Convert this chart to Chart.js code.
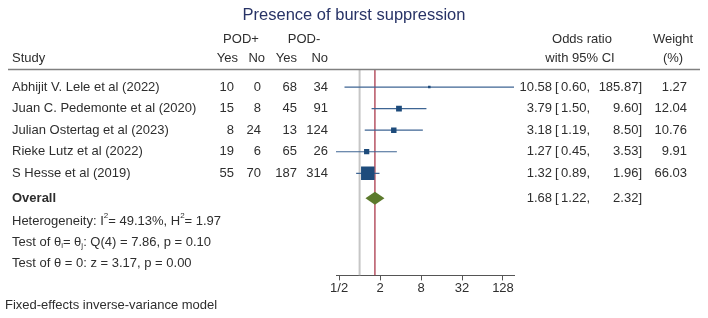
<!DOCTYPE html>
<html><head><meta charset="utf-8">
<script src="https://cdn.jsdelivr.net/npm/chart.js@4"></script>
<style>html,body{margin:0;padding:0;background:#fff}canvas{display:block}</style>
</head><body>
<canvas id="c" width="708" height="318"></canvas>
<script>
// ---- data ----
const studies = ['Abhijit V. Lele et al (2022)', 'Juan C. Pedemonte et al (2020)', 'Julian Ostertag et al (2023)', 'Rieke Lutz et al (2022)', 'S Hesse et al (2019)'];
const podPosYes = [10, 15, 8, 19, 55];
const podPosNo = [0, 8, 24, 6, 70];
const podNegYes = [68, 45, 13, 65, 187];
const podNegNo = [34, 91, 124, 26, 314];
const oddsRatio = [10.58, 3.79, 3.18, 1.27, 1.32];
const ciLower = [0.60, 1.50, 1.19, 0.45, 0.89];
const ciUpper = [185.87, 9.60, 8.50, 3.53, 1.96];
const weights = [1.27, 12.04, 10.76, 9.91, 66.03];
const overallOR = 1.68, overallLower = 1.22, overallUpper = 2.32;
const tickValues = [0.5, 2, 8, 32, 128];
const tickLabels = ['1/2', '2', '8', '32', '128'];

// ---- layout ----
const FONT = '"Liberation Sans", Arial, sans-serif';
const TXT = '#2e2e2e';
const rowPos = studies.map((s, i) => i + 1);
const overallRow = 6.16;
const yMin = 0.16, yMax = 9.74;
const L2 = v => Math.log2(v);
const maxW = Math.max(...weights);
const sqSide = w => 13.5 * Math.sqrt(w / maxW);

const datasets = [];
datasets.push({
  label: 'studies', order: 0,
  data: oddsRatio.map((v, i) => ({ x: L2(v), y: rowPos[i] })),
  pointStyle: 'rect',
  pointRadius: weights.map(w => Math.max(sqSide(w) / Math.SQRT2, 1.8)),
  backgroundColor: '#1d4b7b', borderColor: '#1d4b7b', borderWidth: 0, showLine: false
});
studies.forEach((s, i) => {
  datasets.push({
    label: 'ci' + i, order: 1, showLine: true, pointRadius: 0, borderWidth: 1.2,
    borderColor: '#3e6593',
    data: [{ x: L2(ciLower[i]), y: rowPos[i] }, { x: L2(ciUpper[i]), y: rowPos[i] }]
  });
});
datasets.push({
  label: 'null', order: 3, showLine: true, pointRadius: 0, borderWidth: 2, borderColor: '#c6c6c6',
  data: [{ x: L2(1), y: yMin }, { x: L2(1), y: yMax }]
});
datasets.push({
  label: 'overall', order: 2, showLine: true, pointRadius: 0, borderWidth: 1.2, borderColor: '#a3283c',
  data: [{ x: L2(overallOR), y: yMin }, { x: L2(overallOR), y: yMax }]
});

function txt(ctx, s, x, y, align, font, color) {
  ctx.font = font || ('13px ' + FONT);
  ctx.fillStyle = color || TXT;
  ctx.textAlign = align || 'left';
  ctx.textBaseline = 'middle';
  ctx.fillText(s, x, y);
}
function rich(ctx, x, y, parts) {
  ctx.textAlign = 'left'; ctx.textBaseline = 'middle'; ctx.fillStyle = TXT;
  parts.forEach(([s, m]) => {
    if (m === 'sup') { ctx.font = '8px ' + FONT; ctx.fillText(s, x, y - 5); }
    else if (m === 'sub') { ctx.font = '8px ' + FONT; ctx.fillText(s, x, y + 4); }
    else { ctx.font = '13px ' + FONT; ctx.fillText(s, x, y); }
    x += ctx.measureText(s).width;
  });
}

const tablePlugin = {
  id: 'table',
  afterDatasetsDraw(chart) {
    const ctx = chart.ctx, xs = chart.scales.x, ys = chart.scales.y;
    const yo = ys.getPixelForValue(overallRow);
    ctx.save();
    ctx.beginPath();
    ctx.moveTo(xs.getPixelForValue(L2(overallLower)), yo);
    ctx.lineTo(xs.getPixelForValue(L2(overallOR)), yo - 6.5);
    ctx.lineTo(xs.getPixelForValue(L2(overallUpper)), yo);
    ctx.lineTo(xs.getPixelForValue(L2(overallOR)), yo + 6.5);
    ctx.closePath();
    ctx.fillStyle = '#5c7a2c';
    ctx.fill();
    ctx.restore();
  },
  afterDraw(chart) {
    const ctx = chart.ctx, ys = chart.scales.y;
    ctx.save();
    txt(ctx, 'Presence of burst suppression', 354, 15, 'center', '16.5px ' + FONT, '#283366');
    txt(ctx, 'POD+', 241, 39, 'center');
    txt(ctx, 'POD-', 304, 39, 'center');
    txt(ctx, 'Study', 12, 58);
    txt(ctx, 'Yes', 238, 58, 'right');
    txt(ctx, 'No', 265, 58, 'right');
    txt(ctx, 'Yes', 297, 58, 'right');
    txt(ctx, 'No', 328, 58, 'right');
    txt(ctx, 'Odds ratio', 582, 39, 'center');
    txt(ctx, 'with 95% CI', 580, 58, 'center');
    txt(ctx, 'Weight', 673, 39, 'center');
    txt(ctx, '(%)', 673, 58, 'center');
    ctx.strokeStyle = '#808080'; ctx.lineWidth = 1.5;
    ctx.beginPath(); ctx.moveTo(8, 69.5); ctx.lineTo(700, 69.5); ctx.stroke();
    studies.forEach((s, i) => {
      const y = ys.getPixelForValue(rowPos[i]);
      txt(ctx, s, 12, y);
      txt(ctx, String(podPosYes[i]), 234, y, 'right');
      txt(ctx, String(podPosNo[i]), 261, y, 'right');
      txt(ctx, String(podNegYes[i]), 297, y, 'right');
      txt(ctx, String(podNegNo[i]), 328, y, 'right');
      txt(ctx, oddsRatio[i].toFixed(2), 552, y, 'right');
      txt(ctx, '[', 555, y);
      txt(ctx, ciLower[i].toFixed(2) + ',', 590, y, 'right');
      txt(ctx, ciUpper[i].toFixed(2) + ']', 642, y, 'right');
      txt(ctx, weights[i].toFixed(2), 687, y, 'right');
    });
    const yo = ys.getPixelForValue(overallRow);
    txt(ctx, 'Overall', 12, yo, 'left', 'bold 13px ' + FONT);
    txt(ctx, overallOR.toFixed(2), 552, yo, 'right');
    txt(ctx, '[', 555, yo);
    txt(ctx, overallLower.toFixed(2) + ',', 590, yo, 'right');
    txt(ctx, overallUpper.toFixed(2) + ']', 642, yo, 'right');
    rich(ctx, 12, 221, [['Heterogeneity: I'], ['2', 'sup'], ['= 49.13%, H'], ['2', 'sup'], ['= 1.97']]);
    rich(ctx, 12, 242, [['Test of θ'], ['i', 'sub'], ['= θ'], ['j', 'sub'], [': Q(4) = 7.86, p = 0.10']]);
    rich(ctx, 12, 263, [['Test of θ = 0: z = 3.17, p = 0.00']]);
    txt(ctx, 'Fixed-effects inverse-variance model', 5, 305);
    ctx.restore();
  }
};

new Chart(document.getElementById('c'), {
  type: 'scatter',
  data: { datasets },
  options: {
    responsive: false, animation: false, devicePixelRatio: 1,
    layout: { padding: { left: 336, right: 194, top: 69, bottom: 22 } },
    plugins: { legend: { display: false }, tooltip: { enabled: false } },
    scales: {
      x: {
        type: 'linear',
        min: L2(Math.min(...ciLower)), max: L2(Math.max(...ciUpper)),
        afterBuildTicks: axis => { axis.ticks = tickValues.map(v => ({ value: L2(v) })); },
        ticks: {
          autoSkip: false, maxRotation: 0, padding: 0, color: TXT,
          font: { size: 13, family: FONT },
          callback: (v, i) => tickLabels[i]
        },
        grid: { drawOnChartArea: false, drawTicks: true, tickLength: 5, color: '#555' },
        border: { display: true, color: '#555', width: 1 }
      },
      y: { type: 'linear', reverse: true, min: yMin, max: yMax, display: false }
    }
  },
  plugins: [tablePlugin]
});
</script>
</body></html>
